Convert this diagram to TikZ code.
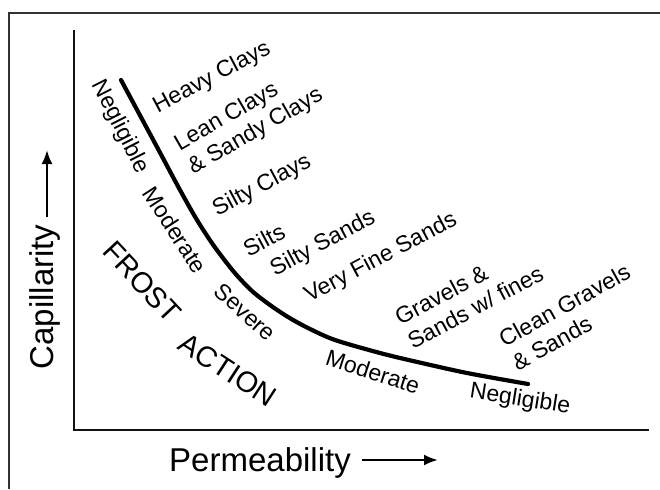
\documentclass[tikz,border=0pt]{standalone}
\usepackage{fontspec}
\usepackage{tikz}
\usepackage{xcolor}
\setmainfont{Liberation Sans}
\usetikzlibrary{arrows}
\usetikzlibrary{arrows.meta}
\usetikzlibrary{positioning}

\begin{document}
\begin{tikzpicture}[x={1pt}, y={-1pt},
		soil/.style={font={\fontsize{23}{27}\selectfont}, inner sep={0pt}, align={left}},
		frost/.style={font={\fontsize{23}{27}\selectfont}, inner sep={0pt}},
		big/.style={font={\fontsize{29}{34}\selectfont}, inner sep={0pt}},
		axislabel/.style={font={\fontsize{33}{40}\selectfont}, inner sep={0pt}},
		axisarrow/.style={-{Latex[length={14pt}, width={11pt}]}, line width={2.4pt}}]
				\definecolor{WHITE}{RGB}{255, 255, 255}
				\definecolor{DARK_GRAY}{RGB}{50, 50, 50}
				\definecolor{ALMOST_BLACK}{RGB}{18, 18, 18}
				\definecolor{BLACK}{RGB}{0, 0, 0}
				\useasboundingbox[fill={WHITE!100}] (0, 0) rectangle (660, 489);

				\begin{scope}[draw]
					\draw[line width={1.6pt}, color={DARK_GRAY!100}] (9, 489) -- (9, 13) -- (660, 13);
					\draw[line width={1.3pt}, color={ALMOST_BLACK!100}] (74, 30) -- (74, 430) -- (649, 430);
				\end{scope}

				\begin{scope}[draw]
					\draw[line width={4.2pt}, color={BLACK!100}, line cap={round}] plot[smooth, tension={0.5}] coordinates {
						(121, 80) (157, 147) (180, 190) (197, 220) (214, 246) (234, 272)
						(252, 291) (270, 305) (288, 317) (308, 328) (335, 340) (380, 353)
						(413, 361) (467, 373) (528, 384)};
				\end{scope}

				\node[soil, rotate={28}] (heavy) at (212, 78) {Heavy Clays};
				\node[soil, rotate={30}] (lean) at (249, 120) {Lean Clays\\\& Sandy Clays};
				\node[soil, rotate={28}] (siltyclays) at (262, 186) {Silty Clays};
				\node[soil, rotate={28}] (silts) at (264, 240) {Silts};
				\node[soil, rotate={28}] (siltysands) at (323, 244) {Silty Sands};
				\node[soil, rotate={28}] (finesands) at (381, 258) {Very Fine Sands};
				\node[soil, rotate={28}] (gravels) at (469, 295) {Gravels \&\\Sands w/ fines};
				\node[soil, rotate={29}] (clean) at (571, 317) {Clean Gravels\\\& Sands};

				\node[frost, rotate={-63}] (neglA) at (120, 127) {Negligible};
				\node[frost, rotate={-57}] (modA) at (175, 230) {Moderate};
				\node[frost, rotate={-42}] (severe) at (245, 312) {Severe};
				\node[frost, rotate={-18}] (modB) at (373, 372) {Moderate};
				\node[frost, rotate={-9}] (neglB) at (520, 400) {Negligible};

				\node[big, rotate={-47}] (frostword) at (142, 282) {FROST};
				\node[big, rotate={-33}] (actionword) at (228, 370) {ACTION};

				\node[axislabel, rotate={90}] (capillarity) at (45, 297) {Capillarity};
				\node[axislabel] (permeability) at (260, 463) {Permeability};

				\coordinate (capA) at (47, 217);
				\coordinate (capB) at (47, 150);
				\coordinate (permA) at (362, 460);
				\coordinate (permB) at (438, 460);
				\draw[axisarrow, color={BLACK!100}] (capA) -- (capB);
				\draw[axisarrow, color={BLACK!100}] (permA) -- (permB);
			\end{tikzpicture}
\end{document}
